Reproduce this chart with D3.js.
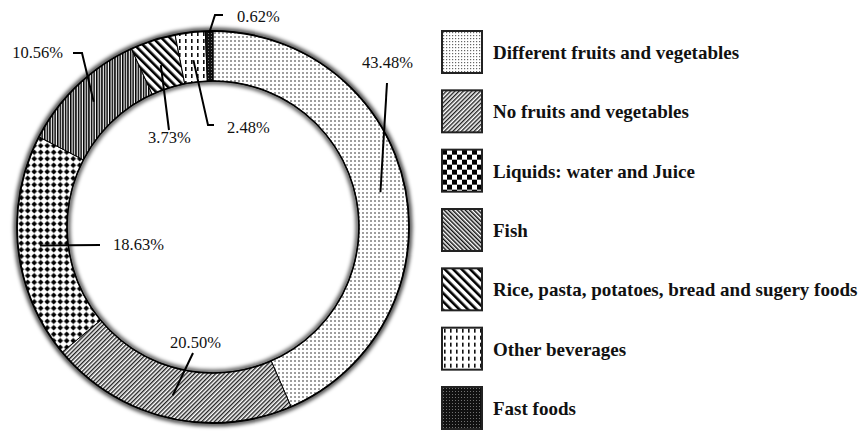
<!DOCTYPE html>
<meta charset="utf-8">
<html>
<script src="https://d3js.org/d3.v7.min.js"></script>
<body style="margin:0;background:#fff">
<div id="chart"></div>
<script>

// data
var categories = ["Different fruits and vegetables", "No fruits and vegetables", "Liquids: water and Juice",
                  "Fish", "Rice, pasta, potatoes, bread and sugery foods", "Other beverages", "Fast foods"];
var shares = [43.48, 20.50, 18.63, 10.56, 3.73, 2.48, 0.62];
var shareLabels = ["43.48%", "20.50%", "18.63%", "10.56%", "3.73%", "2.48%", "0.62%"];

// pattern used for each slice in the ring and in the legend
var ringFill = ["dots", "diagFine", "diamonds", "vlines", "diagWide", "dashes", "dark"];
var legendFill = ["dotsLegend", "diagFine", "checker", "backFine", "diagWide", "dashes", "dark"];

// where each leader line bends / ends and where its text sits
var labelLayout = [
  {r: 171, pts: [[387, 83]], tx: 362, ty: 68, anchor: "start"},
  {r: 173, pts: [[193, 353]], tx: 170, ty: 348, anchor: "start"},
  {r: 174, pts: [[100, 245]], tx: 113, ty: 250, anchor: "start"},
  {r: 173, pts: [[82, 53], [73, 53]], tx: 63, ty: 58, anchor: "end"},
  {r: 170, pts: [[169, 130]], tx: 148, ty: 143, anchor: "start"},
  {r: 168, pts: [[208, 125], [214, 125]], tx: 227, ty: 133, anchor: "start"},
  {r: 194, pts: [[215, 15], [223, 15]], tx: 237, ty: 22, anchor: "start"}
];

var width = 860,
    height = 433,
    cx = 213, cy = 227,
    outerR = 196, innerR = 146;

var svg = d3.select("#chart")
  .append("svg")
    .attr("width", width)
    .attr("height", height)
    .style("font-family", "'Liberation Serif', 'Times New Roman', serif");

var defs = svg.append("defs");

defs.append("filter").attr("id", "blur")
    .attr("x", "-10%").attr("y", "-10%").attr("width", "120%").attr("height", "120%")
  .append("feGaussianBlur").attr("stdDeviation", 2.2);

function pattern(id, w, h, rot) {
  var p = defs.append("pattern")
      .attr("id", id)
      .attr("patternUnits", "userSpaceOnUse")
      .attr("width", w)
      .attr("height", h);
  if (rot) p.attr("patternTransform", "rotate(" + rot + ")");
  return p;
}

// light dots
var p = pattern("dots", 4, 4);
p.append("rect").attr("width", 4).attr("height", 4).attr("fill", "#fff");
p.append("circle").attr("cx", 2).attr("cy", 2).attr("r", 0.8).attr("fill", "#222");

p = pattern("dotsLegend", 3, 3);
p.append("rect").attr("width", 3).attr("height", 3).attr("fill", "#fff");
p.append("rect").attr("x", 1).attr("y", 1).attr("width", 1.2).attr("height", 1.2).attr("fill", "#666");

// fine "/" hatch
p = pattern("diagFine", 3, 3, 45);
p.append("rect").attr("width", 3).attr("height", 3).attr("fill", "#fff");
p.append("rect").attr("width", 1.4).attr("height", 3).attr("fill", "#222");

// fine "\" hatch
p = pattern("backFine", 3, 3, -45);
p.append("rect").attr("width", 3).attr("height", 3).attr("fill", "#fff");
p.append("rect").attr("width", 1.5).attr("height", 3).attr("fill", "#111");

// black diamonds
p = pattern("diamonds", 6.5, 6.5);
p.append("rect").attr("width", 6.5).attr("height", 6.5).attr("fill", "#fff");
p.append("path").attr("d", "M3.25,0.4L6.1,3.25L3.25,6.1L0.4,3.25Z").attr("fill", "#000");

// checkerboard
p = pattern("checker", 10, 10);
p.append("rect").attr("width", 10).attr("height", 10).attr("fill", "#fff");
p.append("rect").attr("width", 5).attr("height", 5).attr("fill", "#000");
p.append("rect").attr("x", 5).attr("y", 5).attr("width", 5).attr("height", 5).attr("fill", "#000");

// vertical lines
p = pattern("vlines", 2.6, 4);
p.append("rect").attr("width", 2.6).attr("height", 4).attr("fill", "#fff");
p.append("rect").attr("width", 1.5).attr("height", 4).attr("fill", "#000");

// wide "\" stripes
p = pattern("diagWide", 6, 6, -45);
p.append("rect").attr("width", 6).attr("height", 6).attr("fill", "#fff");
p.append("rect").attr("width", 2.6).attr("height", 6).attr("fill", "#000");

// short vertical dashes
p = pattern("dashes", 6, 7);
p.append("rect").attr("width", 6).attr("height", 7).attr("fill", "#fff");
p.append("rect").attr("x", 2).attr("y", 1).attr("width", 1.6).attr("height", 4).attr("fill", "#111");

// dark with small light dots
p = pattern("dark", 3, 3);
p.append("rect").attr("width", 3).attr("height", 3).attr("fill", "#111");
p.append("rect").attr("x", 1).attr("y", 1).attr("width", 0.9).attr("height", 0.9).attr("fill", "#888");

// ring
var g = svg.append("g").attr("transform", "translate(" + cx + "," + cy + ")");

var pie = d3.pie().sort(null).value(function(d) { return d; });
var data_ready = pie(shares);

var arc = d3.arc().innerRadius(innerR).outerRadius(outerR);

// soft shadow at both edges
g.append("circle").attr("r", outerR + 1).attr("fill", "none")
  .attr("stroke", "#000").attr("stroke-width", 3.5).attr("filter", "url(#blur)");
g.append("circle").attr("r", innerR - 1).attr("fill", "none")
  .attr("stroke", "#000").attr("stroke-width", 3).attr("filter", "url(#blur)");

g.selectAll("path.slice")
  .data(data_ready)
  .enter()
  .append("path")
    .attr("class", "slice")
    .attr("d", arc)
    .attr("fill", function(d, i) { return "url(#" + ringFill[i] + ")"; })
    .attr("stroke", "#000")
    .attr("stroke-width", 1);

g.append("circle").attr("r", outerR).attr("fill", "none").attr("stroke", "#000").attr("stroke-width", 1.8);
g.append("circle").attr("r", innerR).attr("fill", "none").attr("stroke", "#000").attr("stroke-width", 1.5);

// leader lines and percentage labels
var line = d3.line();
data_ready.forEach(function(d, i) {
  var L = labelLayout[i];
  var a = (d.startAngle + d.endAngle) / 2;
  var start = [cx + L.r * Math.sin(a), cy - L.r * Math.cos(a)];
  svg.append("path")
      .attr("d", line([start].concat(L.pts)))
      .attr("fill", "none")
      .attr("stroke", "#000")
      .attr("stroke-width", 2);
  svg.append("text")
      .attr("x", L.tx)
      .attr("y", L.ty)
      .attr("text-anchor", L.anchor)
      .style("font-size", "16.5px")
      .attr("fill", "#111")
      .text(shareLabels[i]);
});

// legend
var rowY = d3.scaleLinear().domain([0, categories.length - 1]).range([31, 387]);

var legend = svg.selectAll(".legend")
  .data(categories)
  .enter().append("g")
    .attr("class", "legend")
    .attr("transform", function(d, i) { return "translate(442," + rowY(i) + ")"; });

legend.append("rect")
    .attr("width", 40)
    .attr("height", 42)
    .attr("fill", function(d, i) { return "url(#" + legendFill[i] + ")"; })
    .attr("stroke", "#222")
    .attr("stroke-width", 2);

legend.append("text")
    .attr("x", 51)
    .attr("y", 28)
    .style("font-size", "19px")
    .style("font-weight", "bold")
    .attr("fill", "#111")
    .text(function(d) { return d; });

</script>
</body>
</html>
